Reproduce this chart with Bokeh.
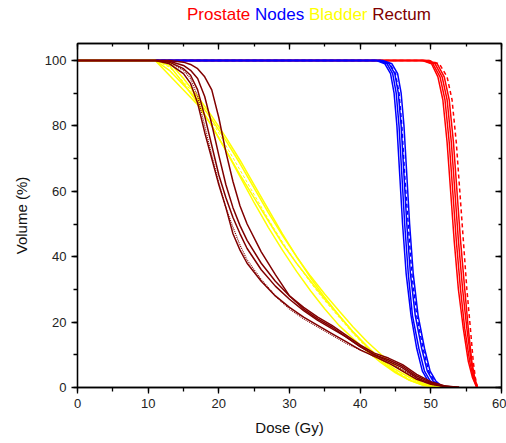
from bokeh.plotting import figure
from bokeh.models import LinearAxis, SingleIntervalTicker, CustomJSTickFormatter, Div
from bokeh.layouts import column
from bokeh.embed import file_html
from bokeh.resources import INLINE

# ---------------- data ----------------
# Prostate (red): dose at which each volume level is reached
prostate_vol = [100, 100, 99, 95, 88, 75, 60, 45, 30, 18, 8, 3, 0]
prostate_dose_1 = [0, 49.0, 50.3, 51.3, 52.0, 52.6, 53.1, 53.6, 54.2, 54.8, 55.5, 56.0, 56.5]
prostate_dose_2 = [0, 49.3, 50.6, 51.6, 52.3, 52.9, 53.4, 53.9, 54.5, 55.1, 55.7, 56.1, 56.6]
prostate_dose_3 = [0, 49.6, 50.9, 51.9, 52.6, 53.2, 53.7, 54.2, 54.8, 55.3, 55.8, 56.2, 56.6]
prostate_dose_4 = [0, 48.8, 50.1, 51.0, 51.7, 52.3, 52.8, 53.3, 53.9, 54.6, 55.3, 55.9, 56.5]
prostate_dose_d = [0, 49.8, 51.2, 52.3, 53.0, 53.6, 54.1, 54.6, 55.1, 55.6, 56.0, 56.3, 56.6]

# Nodes (blue)
nodes_vol = [100, 100, 99, 96, 90, 80, 65, 50, 35, 22, 12, 5, 2, 0.5, 0]
nodes_dose_1 = [0, 42.5, 43.8, 44.6, 45.1, 45.5, 45.9, 46.3, 46.8, 47.4, 48.3, 49.1, 49.9, 50.8, 52.0]
nodes_dose_2 = [0, 42.8, 44.1, 44.9, 45.4, 45.8, 46.2, 46.6, 47.1, 47.8, 48.7, 49.5, 50.3, 51.2, 52.2]
nodes_dose_3 = [0, 43.2, 44.5, 45.3, 45.8, 46.2, 46.6, 47.0, 47.5, 48.2, 49.1, 49.9, 50.7, 51.5, 52.4]
nodes_dose_4 = [0, 42.3, 43.5, 44.3, 44.8, 45.2, 45.6, 46.0, 46.5, 47.2, 48.0, 48.8, 49.6, 50.5, 51.8]
nodes_dose_d = [0, 42.9, 44.2, 45.0, 45.5, 45.9, 46.3, 46.8, 47.3, 48.0, 48.9, 49.7, 50.5, 51.3, 52.3]

# Bladder (yellow): volume at each dose
bladder_dose = [0, 11, 13, 15, 17, 19, 21, 23, 25, 27, 29, 31, 33, 35, 37, 39, 41, 43, 45, 47, 49, 51, 53]
bladder_vol_1 = [100, 100, 95.5, 91, 86.5, 80, 72.5, 65, 58, 51, 44, 38, 32.5, 27, 22, 17, 12.5, 8.5, 5.5, 3, 1, 0.2, 0]
bladder_vol_2 = [100, 100, 97, 92.5, 88, 82, 75.5, 68.5, 61, 53.5, 46.5, 40, 34, 28.5, 23.5, 18.5, 14, 10, 6.5, 3.5, 1.2, 0.3, 0]
bladder_vol_3 = [100, 100, 98.5, 93, 87, 80, 72.5, 64.5, 56.5, 49, 42, 35.5, 29.5, 24, 19, 15, 11, 7.5, 4.5, 2.2, 0.7, 0.1, 0]
bladder_vol_4 = [100, 100, 99.5, 94.5, 89, 83, 76.5, 69.5, 62, 54.5, 47, 40, 33.5, 27.5, 22, 17, 12.5, 8, 4.8, 2.2, 0.6, 0.1, 0]
bladder_vol_d = [100, 100, 98, 93.5, 88.5, 81.5, 74, 66.5, 59, 51.5, 44.5, 38, 32, 26.5, 21.5, 16.5, 12, 8.2, 5, 2.5, 0.8, 0.1, 0]

# Rectum (maroon)
rectum_dose = [0, 11, 13, 15, 16, 17, 18, 19, 20, 21, 22, 23, 24, 26, 28, 30, 32, 34, 36, 38, 40, 42, 44, 46, 48, 50, 52, 54]
rectum_vol_1 = [100, 100, 99, 96, 93, 87, 78, 70, 62, 55, 47, 42, 38, 32.5, 28, 24.5, 21.5, 19, 16.5, 14, 11.5, 9.5, 7.5, 5, 2.5, 1, 0.3, 0]
rectum_vol_2 = [100, 100, 99.5, 97.5, 95.5, 91, 83, 74, 65, 58, 52, 47, 42.5, 36, 31, 27, 23.5, 20.5, 18, 15.5, 12.5, 10, 8, 6, 3, 1.2, 0.3, 0]
rectum_vol_3 = [100, 100, 99.8, 98.5, 97, 94.5, 89, 80.5, 71, 62, 55, 49.5, 45, 38, 32.5, 28, 24, 21, 18.5, 15.5, 12.5, 10, 8.5, 6.5, 3.5, 1.5, 0.4, 0]
rectum_vol_4 = [100, 100, 100, 99.5, 98.8, 97.5, 95, 91, 82.5, 72, 63, 55.5, 50, 41.5, 34.5, 28, 24.5, 21.5, 19, 16, 13, 10.5, 9, 7, 4, 1.8, 0.5, 0]
rectum_vol_d = [100, 100, 99.3, 97, 94.5, 89, 80, 71, 62.5, 55, 49, 43.5, 39, 33, 28, 24, 21, 18.5, 16, 13.5, 11.5, 9.5, 7.5, 5.5, 2.8, 1, 0.3, 0]

title_words = ["Prostate", "Nodes", "Bladder", "Rectum"]

RED = "#FF0000"
BLUE = "#0000FF"
YELLOW = "#FFFF00"
MAROON = "#800000"
FONT = "Liberation Sans"

TITLE_H = 30
p = figure(width=506, height=443 - TITLE_H, x_range=(0, 60), y_range=(0, 105.2),
           output_backend="svg", toolbar_location=None,
           min_border_left=77, min_border_right=5, min_border_top=43 - TITLE_H,
           min_border_bottom=56)
p.xgrid.visible = False
p.ygrid.visible = False
p.outline_line_color = "black"
p.outline_line_width = 1.3

LW = 1.5
# prostate
for d in [prostate_dose_1, prostate_dose_2, prostate_dose_3, prostate_dose_4]:
    p.line(d, prostate_vol, line_color=RED, line_width=LW)
p.line(prostate_dose_d, prostate_vol, line_color=RED, line_width=LW, line_dash="4 3")
# nodes
for d in [nodes_dose_1, nodes_dose_2, nodes_dose_3, nodes_dose_4]:
    p.line(d, nodes_vol, line_color=BLUE, line_width=LW)
p.line(nodes_dose_d, nodes_vol, line_color=BLUE, line_width=LW, line_dash="4 3")
# bladder
for v in [bladder_vol_1, bladder_vol_2, bladder_vol_3, bladder_vol_4]:
    p.line(bladder_dose, v, line_color=YELLOW, line_width=LW)
p.line(bladder_dose, bladder_vol_d, line_color=YELLOW, line_width=1.0, line_dash="3 2")
# rectum
for v in [rectum_vol_1, rectum_vol_2, rectum_vol_3, rectum_vol_4]:
    p.line(rectum_dose, v, line_color=MAROON, line_width=LW)
p.line(rectum_dose, rectum_vol_d, line_color=MAROON, line_width=1.2, line_dash="1 1")

# axes
xax = p.xaxis[0]
yax = p.yaxis[0]
xax.ticker = SingleIntervalTicker(interval=10, num_minor_ticks=2)
yax.ticker = SingleIntervalTicker(interval=20, num_minor_ticks=2)
xax.axis_label = "Dose (Gy)"
yax.axis_label = "Volume (%)"
for ax in (xax, yax):
    ax.axis_line_color = "black"
    ax.axis_line_width = 1.3
    ax.major_tick_line_color = "black"
    ax.minor_tick_line_color = "black"
    ax.major_tick_line_width = 1.3
    ax.minor_tick_line_width = 1.3
    ax.major_tick_out = 6
    ax.major_tick_in = 0
    ax.minor_tick_out = 4
    ax.minor_tick_in = 0
    ax.major_label_text_font = FONT
    ax.major_label_text_font_size = "13px"
    ax.major_label_text_color = "#222222"
    ax.axis_label_text_font = FONT
    ax.axis_label_text_font_size = "15px"
    ax.axis_label_text_font_style = "normal"
    ax.axis_label_text_color = "#111111"
    ax.major_label_standoff = 5
xax.axis_label_standoff = 8
yax.axis_label_standoff = 12

top = LinearAxis(ticker=SingleIntervalTicker(interval=10, num_minor_ticks=2),
                 formatter=CustomJSTickFormatter(code="return ''"))
right = LinearAxis(ticker=SingleIntervalTicker(interval=20, num_minor_ticks=2),
                   formatter=CustomJSTickFormatter(code="return ''"))
for ax in (top, right):
    ax.axis_line_color = "black"
    ax.axis_line_width = 1.3
    ax.major_tick_line_width = 1.3
    ax.minor_tick_line_width = 1.3
    ax.major_tick_in = 6
    ax.major_tick_out = 0
    ax.minor_tick_in = 3
    ax.minor_tick_out = 0
    ax.major_label_standoff = 0
p.add_layout(top, "above")
p.add_layout(right, "right")

title_colors = [RED, BLUE, YELLOW, MAROON]
title_html = " ".join(f'<span style="color:{c}">{w}</span>' for w, c in zip(title_words, title_colors))
title = Div(text=title_html, width=506, height=TITLE_H, margin=0,
            styles={"font-family": FONT, "font-size": "17px", "line-height": f"{TITLE_H}px",
                    "padding-left": "187px", "white-space": "nowrap", "box-sizing": "border-box"})

layout = column(title, p, spacing=0)
open("out.html", "w").write(file_html(layout, INLINE))
